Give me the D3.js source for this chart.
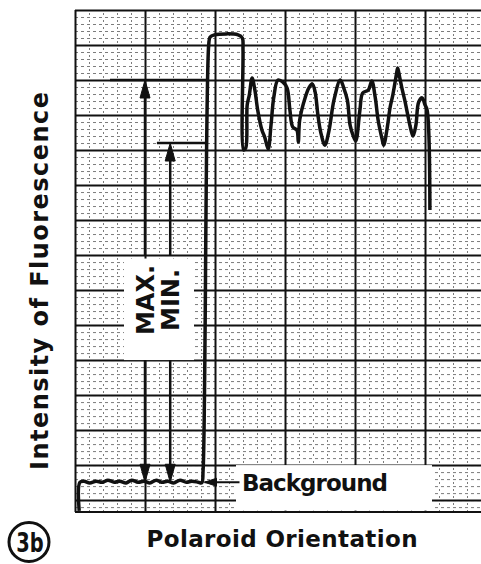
<!DOCTYPE html>
<html>
<head>
<meta charset="utf-8">
<script src="https://cdn.jsdelivr.net/npm/d3@7"></script>
<style>
  body { margin: 0; background: #fff; }
  text { font-family: "DejaVu Sans", sans-serif; font-weight: bold; fill: #111; }
</style>
</head>
<body>
<svg width="481" height="564"></svg>
<script>
// chart recorder trace in grid units (10 per major division)
var traceX = [0.6, 0.7, 1.3, 2.1, 3.0, 3.9, 4.7, 5.6, 6.4, 7.3, 8.1, 9.0, 9.9, 10.7, 11.6, 12.4,
  13.3, 14.1, 15.0, 15.9, 16.7, 17.6, 18.1, 18.3, 19.1, 19.3, 19.9, 23.3, 23.9, 24.0, 24.1,
  24.4, 24.6, 24.9, 25.3, 25.7, 26.1, 26.7, 27.1, 27.6, 28.0, 28.4, 29.0, 29.7, 30.3, 30.7,
  31.1, 31.7, 31.9, 32.1, 32.9, 33.4, 33.9, 34.3, 34.7, 35.1, 35.7, 36.3, 37.0, 37.9, 38.4,
  38.9, 39.3, 39.7, 40.1, 40.7, 41.1, 41.9, 42.4, 42.9, 43.3, 43.9, 44.1, 44.6, 45.0, 45.4,
  45.9, 46.1, 46.4, 46.7, 47.1, 47.6, 48.0, 48.3, 48.7, 49.1, 49.6, 50.0, 50.3, 50.7];
var traceY = [-3.1, 5.1, 5.4, 4.9, 5.4, 5.1, 5.7, 5.1, 5.4, 4.9, 5.7, 5.1, 5.4, 4.9, 5.7, 5.1,
  5.4, 4.9, 5.7, 5.1, 5.4, 5.1, 4.9, 8.6, 130.0, 132.3, 132.9, 132.9, 132.0, 128.6, 100.0,
  100.6, 112.9, 115.7, 120.6, 117.1, 111.4, 105.7, 103.7, 100.3, 107.1, 115.1, 120.0, 119.4, 117.7, 111.4,
  106.6, 105.7, 102.3, 108.6, 115.1, 117.7, 118.9, 116.6, 110.0, 105.1, 101.4, 105.7, 114.3, 120.0, 117.7,
  114.3, 107.1, 104.3, 102.6, 111.4, 116.3, 117.1, 119.7, 114.9, 108.6, 102.9, 101.4, 106.3, 112.0, 115.7,
  121.4, 123.4, 120.6, 117.7, 114.3, 109.4, 105.7, 104.0, 107.1, 113.7, 114.9, 112.9, 111.4, 82.9];

// MAX / MIN annotation levels
var maxLevel = 120, minLevel = 102, backgroundLevel = 5.1;
var maxArrowX = 10, minArrowX = 13.6;
var maxLineFrom = 5, maxLineTo = 19, minLineFrom = 11.7, minLineTo = 18.7;

// grid ticks
var majorX = d3.range(0, 60, 10), minorX = d3.range(0, 58, 2);
var majorY = d3.range(0, 150, 10), minorY = d3.range(-2, 141, 2);

var svg = d3.select("svg");
var x = d3.scaleLinear().domain([0, 58]).range([75, 481]);
var y = d3.scaleLinear().domain([-3.4, 140]).range([512, 10]);
var gTop = y(140), gBottom = y(-3.4), gLeft = x(0), gRight = x(58);

var grid = svg.append("g");
function gridAxis(ticks, major, vertical) {
  var ax = vertical
    ? d3.axisBottom(x).tickValues(ticks).tickSize(-(gBottom - gTop)).tickFormat("")
    : d3.axisLeft(y).tickValues(ticks).tickSize(-(gRight - gLeft)).tickFormat("");
  var g = grid.append("g")
    .attr("transform", vertical ? "translate(0," + gBottom + ")" : "translate(" + gLeft + ",0)")
    .call(ax);
  g.select(".domain").remove();
  g.selectAll("line")
    .attr("stroke", "#111")
    .attr("stroke-width", major ? 2 : 1)
    .attr("stroke-dasharray", major ? null : (vertical ? "2,5" : "3,3"))
    .attr("opacity", major ? 1 : 0.55);
}
gridAxis(minorX, false, true);
gridAxis(minorY, false, false);
gridAxis(majorX, true, true);
gridAxis(majorY, true, false);
grid.append("line").attr("x1", gLeft).attr("x2", gRight).attr("y1", gBottom).attr("y2", gBottom)
  .attr("stroke", "#111").attr("stroke-width", 2);

// white label patches cut into the paper
svg.append("rect").attr("x", x(7)).attr("y", y(69)).attr("width", x(17) - x(7)).attr("height", y(40) - y(69)).attr("fill", "#fff");
svg.append("rect").attr("x", x(23)).attr("y", y(10)).attr("width", x(51) - x(23)).attr("height", y(-3) - y(10)).attr("fill", "#fff");

// trace
var line = d3.line()
  .curve(d3.curveCatmullRom.alpha(0.5))
  .x(function(d) { return x(d[0]); })
  .y(function(d) { return y(d[1]); });
svg.append("path")
  .datum(d3.zip(traceX, traceY))
  .attr("fill", "none")
  .attr("stroke", "#111")
  .attr("stroke-width", 3.5)
  .attr("stroke-linejoin", "round")
  .attr("d", line);

// annotation lines and arrows
var ann = svg.append("g").attr("stroke", "#111").attr("fill", "#111");
ann.append("line").attr("x1", x(maxLineFrom)).attr("x2", x(maxLineTo)).attr("y1", y(maxLevel)).attr("y2", y(maxLevel)).attr("stroke-width", 2.5);
ann.append("line").attr("x1", x(minLineFrom)).attr("x2", x(minLineTo)).attr("y1", y(minLevel)).attr("y2", y(minLevel)).attr("stroke-width", 2.5);

function vArrow(ax, fromLevel, toLevel) {
  var px = x(ax), y1 = y(fromLevel), y2 = y(toLevel);
  ann.append("line").attr("x1", px).attr("x2", px).attr("y1", y1 + 10).attr("y2", y(70)).attr("stroke-width", 2.5);
  ann.append("line").attr("x1", px).attr("x2", px).attr("y1", y(40)).attr("y2", y2 - 10).attr("stroke-width", 2.5);
  ann.append("path").attr("d", "M" + px + "," + y1 + "l-5,18l10,0z").attr("stroke-width", 1);
  ann.append("path").attr("d", "M" + px + "," + y2 + "l-5,-18l10,0z").attr("stroke-width", 1);
}
vArrow(maxArrowX, maxLevel, backgroundLevel);
vArrow(minArrowX, minLevel, backgroundLevel);

// background arrow
ann.append("line").attr("x1", x(18.5)).attr("x2", x(23.5)).attr("y1", y(backgroundLevel)).attr("y2", y(backgroundLevel)).attr("stroke-width", 2);
ann.append("path").attr("d", "M" + x(18.5) + "," + y(backgroundLevel) + "l12,-4l0,8z").attr("stroke-width", 1);

svg.append("text").attr("x", 242).attr("y", 491).attr("font-size", 23).attr("textLength", 146).text("Background");

svg.append("text").attr("transform", "translate(" + (x(maxArrowX) + 9) + ",300) rotate(-90)")
  .attr("text-anchor", "middle").attr("font-size", 24).text("MAX.");
svg.append("text").attr("transform", "translate(" + (x(minArrowX) + 9) + ",300) rotate(-90)")
  .attr("text-anchor", "middle").attr("font-size", 24).text("MIN.");

// axis titles
svg.append("text").attr("transform", "translate(48,281) rotate(-90)")
  .attr("text-anchor", "middle").attr("font-size", 24).attr("textLength", 378)
  .text("Intensity of Fluorescence");
svg.append("text").attr("x", 282).attr("y", 547).attr("text-anchor", "middle")
  .attr("font-size", 23).attr("textLength", 271).text("Polaroid Orientation");

// panel label
svg.append("ellipse").attr("cx", 29).attr("cy", 542).attr("rx", 20).attr("ry", 19.5).attr("fill", "none").attr("stroke", "#111").attr("stroke-width", 3);
svg.append("text").attr("transform", "translate(30,552) scale(0.72,1)").attr("text-anchor", "middle").attr("font-size", 27).text("3b");
</script>
</body>
</html>
